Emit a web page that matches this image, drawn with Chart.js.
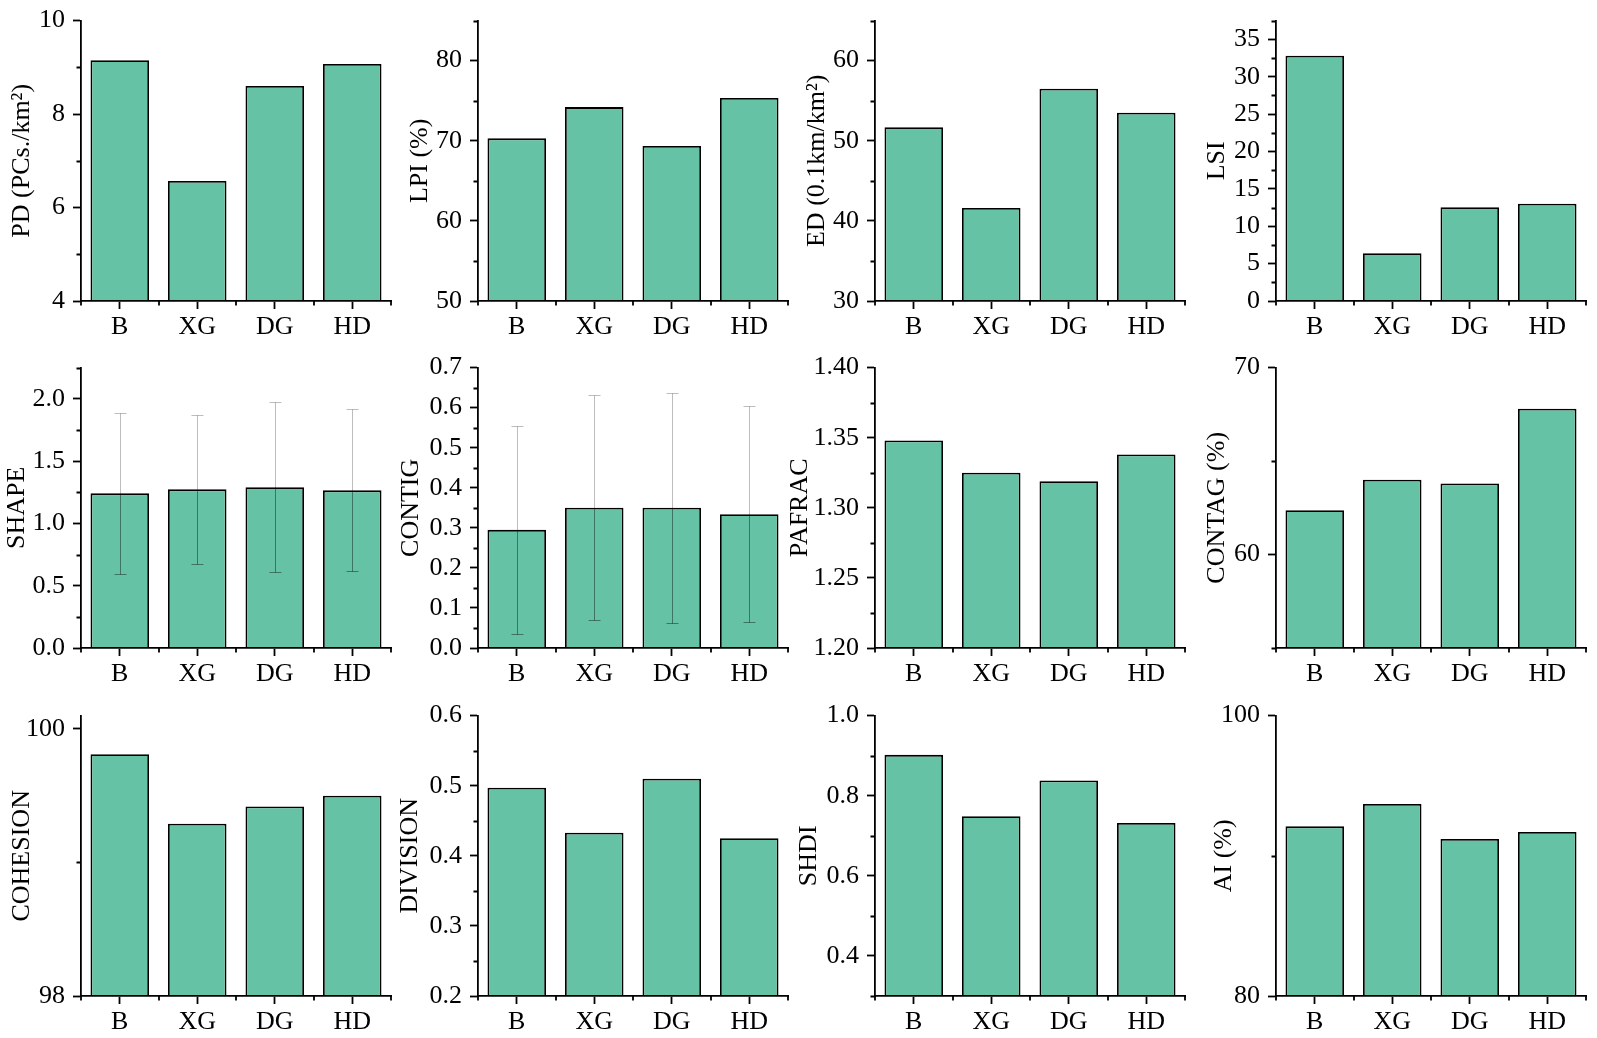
<!DOCTYPE html>
<html>
<head>
<meta charset="utf-8">
<script src="https://cdn.jsdelivr.net/npm/chart.js@4.4.1/dist/chart.umd.min.js"></script>
<style>
    html, body { margin: 0; padding: 0; background: #fff; }
    #page { position: relative; width: 1597px; height: 1038px; overflow: hidden; }
    #page canvas { position: absolute; }
</style>
</head>
<body>
<div id="page"></div>
<script>
"use strict";

// ---- data ----
const categories = ['B', 'XG', 'DG', 'HD'];

const pdValues = [9.15, 6.57, 8.60, 9.07];
const lpiValues = [70.3, 74.2, 69.35, 75.35];
const edValues = [51.7, 41.6, 56.5, 53.5];
const lsiValues = [32.8, 6.4, 12.55, 13.0];
const shapeValues = [1.241, 1.273, 1.29, 1.265];
const shapeSd = [0.648, 0.597, 0.68, 0.65];
const contigValues = [0.295, 0.35, 0.35, 0.334];
const contigSd = [0.26, 0.281, 0.287, 0.27];
const pafracValues = [1.348, 1.325, 1.319, 1.338];
const contagValues = [62.37, 64.0, 63.8, 67.8];
const cohesionValues = [99.81, 99.29, 99.42, 99.50];
const divisionValues = [0.497, 0.433, 0.510, 0.425];
const shdiValues = [0.902, 0.749, 0.838, 0.732];
const aiValues = [92.1, 93.7, 91.2, 91.7];

// axis ranges, labelled ticks, minor ticks
const pdRange = [4, 10], pdTicks = [4, 6, 8, 10], pdMinor = [5, 7, 9];
const lpiRange = [50, 85], lpiTicks = [50, 60, 70, 80], lpiMinor = [55, 65, 75, 85];
const edRange = [30, 65], edTicks = [30, 40, 50, 60], edMinor = [35, 45, 55, 65];
const lsiRange = [0, 37.5], lsiTicks = [0, 5, 10, 15, 20, 25, 30, 35], lsiMinor = [2.5, 7.5, 12.5, 17.5, 22.5, 27.5, 32.5, 37.5];
const shapeRange = [0, 2.25], shapeTicks = [0, 0.5, 1.0, 1.5, 2.0], shapeMinor = [0.25, 0.75, 1.25, 1.75, 2.25];
const contigRange = [0, 0.7], contigTicks = [0, 0.1, 0.2, 0.3, 0.4, 0.5, 0.6, 0.7], contigMinor = [0.05, 0.15, 0.25, 0.35, 0.45, 0.55, 0.65];
const pafracRange = [1.20, 1.40], pafracTicks = [1.20, 1.25, 1.30, 1.35, 1.40], pafracMinor = [1.225, 1.275, 1.325, 1.375];
const contagRange = [55, 70], contagTicks = [60, 70], contagMinor = [55, 65];
const cohesionRange = [98, 100.1], cohesionTicks = [98, 100], cohesionMinor = [99];
const divisionRange = [0.2, 0.6], divisionTicks = [0.2, 0.3, 0.4, 0.5, 0.6], divisionMinor = [0.25, 0.35, 0.45, 0.55];
const shdiRange = [0.3, 1.0], shdiTicks = [0.4, 0.6, 0.8, 1.0], shdiMinor = [0.3, 0.5, 0.7, 0.9];
const aiRange = [80, 100], aiTicks = [80, 100], aiMinor = [90];

const panels = [
    ['PD (PCs./km²)', pdValues, null, pdRange, pdTicks, pdMinor, 0],
    ['LPI (%)', lpiValues, null, lpiRange, lpiTicks, lpiMinor, 0],
    ['ED (0.1km/km²)', edValues, null, edRange, edTicks, edMinor, 0],
    ['LSI', lsiValues, null, lsiRange, lsiTicks, lsiMinor, 0],
    ['SHAPE', shapeValues, shapeSd, shapeRange, shapeTicks, shapeMinor, 1],
    ['CONTIG', contigValues, contigSd, contigRange, contigTicks, contigMinor, 1],
    ['PAFRAC', pafracValues, null, pafracRange, pafracTicks, pafracMinor, 2],
    ['CONTAG (%)', contagValues, null, contagRange, contagTicks, contagMinor, 0],
    ['COHESION', cohesionValues, null, cohesionRange, cohesionTicks, cohesionMinor, 0],
    ['DIVISION', divisionValues, null, divisionRange, divisionTicks, divisionMinor, 1],
    ['SHDI', shdiValues, null, shdiRange, shdiTicks, shdiMinor, 1],
    ['AI (%)', aiValues, null, aiRange, aiTicks, aiMinor, 0]
];

// ---- layout ----
const axisX = [81, 478, 875, 1276];
const rowTop = [17, 364, 712];
// distance from the y axis to the centre of each axis title
const titleGap = [58.5, 58.3, 58, 59, 63.5, 67, 75, 58.5, 59.3, 67.6, 66, 52];
const yAxisW = 100, xAxisH = 45, padTop = 20, padRight = 9;
const plotW = 310, plotH = 284;
const cnvW = yAxisW + plotW + padRight, cnvH = padTop + plotH + xAxisH;

const LINE = 1.8;
const TITLE_SIZE = 26;

Chart.defaults.font.family = "'Liberation Serif', 'Times New Roman', serif";
Chart.defaults.color = '#000';

function minorTicksPlugin(minor) {
    return {
        id: 'minorTicks',
        afterDraw(chart) {
            const {ctx, chartArea, scales: {x, y}} = chart;
            ctx.save();
            ctx.strokeStyle = '#000';
            ctx.lineWidth = LINE;
            ctx.beginPath();
            minor.forEach(v => {
                const py = Math.round(y.getPixelForValue(v)) + 0.5;
                ctx.moveTo(chartArea.left, py);
                ctx.lineTo(chartArea.left - 4.5, py);
            });
            const centers = categories.map((c, i) => x.getPixelForValue(i));
            const half = (centers[1] - centers[0]) / 2;
            [centers[0] - half, ...centers.map(c => c + half)].forEach(px => {
                px = Math.round(px);
                ctx.moveTo(px, chartArea.bottom);
                ctx.lineTo(px, chartArea.bottom + 4.5);
            });
            ctx.stroke();
            ctx.restore();
        }
    };
}

const errorBarsPlugin = {
    id: 'errorBars',
    afterDatasetsDraw(chart) {
        const ds = chart.data.datasets[0];
        if (!ds.errors) return;
        const {ctx, scales: {y}} = chart;
        ctx.save();
        ctx.lineWidth = 1;
        chart.getDatasetMeta(0).data.forEach((bar, i) => {
            const v = ds.data[i], e = ds.errors[i];
            const top = Math.round(y.getPixelForValue(v + e)) + 0.5,
                mid = y.getPixelForValue(v),
                bot = Math.round(y.getPixelForValue(v - e)) + 0.5,
                x = Math.round(bar.x) + 0.5;
            ctx.strokeStyle = 'rgba(0,0,0,0.26)';
            ctx.beginPath();
            ctx.moveTo(x - 6, top);
            ctx.lineTo(x + 6, top);
            ctx.moveTo(x, top);
            ctx.lineTo(x, mid);
            ctx.stroke();
            ctx.strokeStyle = 'rgba(0,0,0,0.4)';
            ctx.beginPath();
            ctx.moveTo(x, mid);
            ctx.lineTo(x, bot);
            ctx.moveTo(x - 6, bot);
            ctx.lineTo(x + 6, bot);
            ctx.stroke();
        });
        ctx.restore();
    }
};

const page = document.getElementById('page');

panels.forEach(([title, values, errors, range, ticks, minor, digits], k) => {
    const col = k % 4, row = Math.floor(k / 4);
    const cnv = document.createElement('canvas');
    cnv.width = cnvW;
    cnv.height = cnvH;
    cnv.style.left = (axisX[col] - yAxisW) + 'px';
    cnv.style.top = (rowTop[row] - padTop) + 'px';
    page.appendChild(cnv);

    // Chart.js puts the title centre at left + lineHeight / 2 + padding.top
    const titlePad = yAxisW - titleGap[k] - TITLE_SIZE * 1.2 / 2;

    new Chart(cnv, {
        type: 'bar',
        data: {
            labels: categories,
            datasets: [{
                data: values,
                errors: errors,
                base: range[0],
                backgroundColor: '#66c2a5',
                borderColor: '#000',
                borderWidth: 1.8,
                barPercentage: 0.755,
                categoryPercentage: 1
            }]
        },
        options: {
            responsive: false,
            animation: false,
            events: [],
            layout: {padding: {top: padTop, right: padRight, left: 0, bottom: 0}},
            plugins: {legend: {display: false}, tooltip: {enabled: false}},
            scales: {
                x: {
                    offset: true,
                    grid: {offset: false, drawOnChartArea: false, drawTicks: true, tickLength: 8, tickWidth: LINE, tickColor: '#000'},
                    border: {display: true, color: '#000', width: LINE, z: 1},
                    ticks: {font: {size: 26}, padding: 3, maxRotation: 0, autoSkip: false},
                    afterFit: s => { s.height = xAxisH; }
                },
                y: {
                    min: range[0],
                    max: range[1],
                    grid: {drawOnChartArea: false, drawTicks: true, tickLength: 8, tickWidth: LINE, tickColor: '#000'},
                    border: {display: true, color: '#000', width: LINE, z: 1},
                    ticks: {font: {size: 26}, padding: 8, callback: v => Number(v).toFixed(digits)},
                    afterBuildTicks: s => { s.ticks = ticks.map(v => ({value: v})); },
                    afterFit: s => { s.width = yAxisW; },
                    title: {display: true, text: title, font: {size: TITLE_SIZE}, padding: {top: titlePad, bottom: 0}}
                }
            }
        },
        plugins: [minorTicksPlugin(minor), errorBarsPlugin]
    });
});
</script>
</body>
</html>
